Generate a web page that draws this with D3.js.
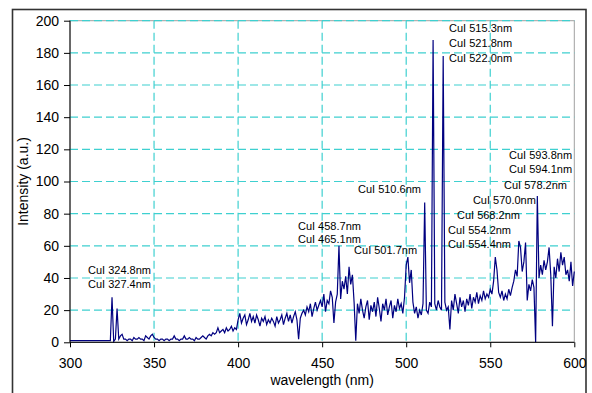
<!DOCTYPE html>
<html>
<head>
<meta charset="utf-8">
<script src="https://cdn.jsdelivr.net/npm/d3@7"></script>
<style>
  body { margin: 0; background: #fff; }
  #chart text { font-family: Arial, "Liberation Sans", sans-serif; fill: #000; }
</style>
</head>
<body>
<div id="chart"></div>
<script>
// spectrum, one reading per nm starting at 300 nm
const startNm = 300
const intensity = [
  1, 1, 1, 1, 1, 1, 1, 1, 1, 1,
  1, 1, 1, 1, 1, 1, 1, 1, 1, 1,
  1, 1, 1, 1, 1, 28, 0.5, 2, 21, 2,
  4, 5, 2, 2, 1, 2, 2, 1, 3, 2,
  2, 3, 2, 2, 1, 4, 3, 2, 4, 5,
  3, 2, 2, 1, 2, 2, 1, 2, 2, 1,
  2, 2, 4, 2, 2, 1, 2, 2, 4, 2,
  2, 3, 2, 2, 1, 3, 2, 2, 3, 4,
  3, 2, 4, 5, 4, 6, 5, 6, 9, 6,
  7, 8, 6, 9, 7, 8, 10, 7, 9, 8,
  14, 18, 12, 15, 17, 11, 14, 18, 13, 16,
  12, 17, 14, 10, 15, 13, 16, 11, 14, 12,
  15, 13, 10, 16, 12, 14, 17, 11, 15, 18,
  13, 17, 12, 16, 19, 14, 2, 15, 18, 20,
  17, 22, 19, 24, 16, 21, 25, 20, 23, 26,
  22, 30, 19, 26, 24, 32, 28, 12, 25, 30,
  60, 27, 38, 33, 41, 30, 47, 36, 42, 25,
  1, 24, 18, 27, 20, 15, 22, 26, 14, 23,
  19, 25, 16, 28, 21, 13, 24, 20, 27, 17,
  22, 26, 15, 23, 19, 27, 21, 24, 18, 28,
  48, 53, 37, 45, 25, 18, 22, 15, 20, 17,
  24, 87, 20, 18, 25, 22, 188, 24, 20, 26,
  22, 20, 178, 25, 20, 22, 8, 26, 20, 30,
  24, 18, 28, 22, 26, 19, 27, 23, 30, 21,
  28, 25, 31, 24, 29, 26, 32, 27, 30, 28,
  33, 30, 38, 53, 45, 31, 28, 32, 26, 30,
  27, 33, 29, 34, 38, 45, 41, 63, 59, 44,
  50, 62, 26, 36, 32, 39, 34, 0, 91, 40,
  48, 42, 51, 45, 50, 59, 42, 10, 47, 40,
  52, 44, 56, 48, 53, 42, 45, 38, 50, 35,
  44,
]

const xTicks = [300, 350, 400, 450, 500, 550, 600]
const yTicks = [0, 20, 40, 60, 80, 100, 120, 140, 160, 180, 200]

// line labels: text, left edge (nm), baseline (a.u.)
const labelText = [
  "CuI 324.8nm", "CuI 327.4nm",
  "CuI 458.7nm", "CuI 465.1nm",
  "CuI 501.7nm", "CuI 510.6nm",
  "CuI 515.3nm", "CuI 521.8nm", "CuI 522.0nm",
  "CuI 593.8nm", "CuI 594.1nm", "CuI 578.2nm", "CuI 570.0nm",
  "CuI 568.2nm", "CuI 554.2nm", "CuI 554.4nm",
]
const labelNm = [310.7, 310.7, 435.6, 435.6, 469, 471.3, 525.5, 525.5, 525.5, 561.2, 561.2, 558.2, 539.7, 530.2, 524.9, 524.9]
const labelVal = [42.5, 33.8, 70.1, 61.8, 54.9, 93, 193, 183.6, 174.3, 114, 105.3, 95.3, 86, 76.6, 67.3, 58.6]

function draw() {
  const dataset = intensity.map((v, i) => ({ nm: startNm + i, v }))

  const dimensions = {
    width: 592,
    height: 393,
    margin: { top: 20.7, left: 70, bottom: 50.7, right: 17.7 },
  }
  dimensions.ctrWidth = dimensions.width - dimensions.margin.left - dimensions.margin.right
  dimensions.ctrHeight = dimensions.height - dimensions.margin.top - dimensions.margin.bottom

  const xScale = d3.scaleLinear().domain([300, 600]).range([0, dimensions.ctrWidth])
  const yScale = d3.scaleLinear().domain([0, 200]).range([dimensions.ctrHeight, 0])

  const svg = d3.select("#chart")
    .append("svg")
    .attr("width", dimensions.width)
    .attr("height", dimensions.height)

  // outer chart frame
  svg.append("rect")
    .attr("x", 12.5).attr("y", 9.5)
    .attr("width", 573.5).attr("height", 400)
    .attr("fill", "#fff")
    .attr("stroke", "#333")
    .attr("stroke-width", 1.6)

  const ctr = svg.append("g")
    .attr("transform", `translate(${dimensions.margin.left}, ${dimensions.margin.top})`)

  // plot area border
  ctr.append("rect")
    .attr("width", dimensions.ctrWidth)
    .attr("height", dimensions.ctrHeight)
    .attr("fill", "none")
    .attr("stroke", "#a0a0a0")

  // gridlines
  const grid = ctr.append("g").attr("stroke", "#3fd0d0").attr("stroke-width", 1.2).attr("stroke-dasharray", "8,4")
  grid.selectAll(".hgrid")
    .data(yTicks.filter(d => d > 0))
    .join("line")
    .attr("x1", 0).attr("x2", dimensions.ctrWidth)
    .attr("y1", d => yScale(d)).attr("y2", d => yScale(d))
  grid.selectAll(".vgrid")
    .data(xTicks.filter(d => d > 300 && d < 600))
    .join("line")
    .attr("class", "vgrid")
    .attr("y1", 0).attr("y2", dimensions.ctrHeight)
    .attr("x1", d => xScale(d)).attr("x2", d => xScale(d))

  // spectrum
  const line = d3.line()
    .x(d => xScale(d.nm))
    .y(d => yScale(d.v))

  ctr.append("path")
    .datum(dataset)
    .attr("fill", "none")
    .attr("stroke", "#000080")
    .attr("stroke-width", 1.2)
    .attr("d", line)

  // axes
  const xAxis = d3.axisBottom(xScale).tickValues(xTicks).tickSize(5).tickPadding(11)
  const xAxisGroup = ctr.append("g")
    .attr("transform", `translate(0, ${dimensions.ctrHeight})`)
    .call(xAxis)
  xAxisGroup.select(".domain").attr("stroke", "#000").attr("d", `M0,0H${dimensions.ctrWidth}`)
  xAxisGroup.selectAll("text").style("font-size", "14px")

  xAxisGroup.append("text")
    .attr("x", dimensions.ctrWidth / 2)
    .attr("y", 42.5)
    .style("font-size", "14px")
    .style("text-anchor", "middle")
    .text("wavelength (nm)")

  const yAxis = d3.axisLeft(yScale).tickValues(yTicks).tickSize(6).tickPadding(5)
  const yAxisGroup = ctr.append("g").call(yAxis)
  yAxisGroup.select(".domain").attr("stroke", "#000").attr("d", `M0,0V${dimensions.ctrHeight}`)
  yAxisGroup.selectAll(".tick text").style("font-size", "14px")

  yAxisGroup.append("text")
    .attr("x", -dimensions.ctrHeight / 2)
    .attr("y", -42)
    .attr("transform", "rotate(-90)")
    .style("font-size", "14px")
    .style("text-anchor", "middle")
    .text("Intensity (a.u.)")

  // line labels
  ctr.append("g")
    .selectAll("text")
    .data(labelText)
    .join("text")
    .attr("x", (d, i) => xScale(labelNm[i]))
    .attr("y", (d, i) => yScale(labelVal[i]))
    .style("font-size", "11px")
    .text(d => d)
}

draw()
</script>
</body>
</html>
